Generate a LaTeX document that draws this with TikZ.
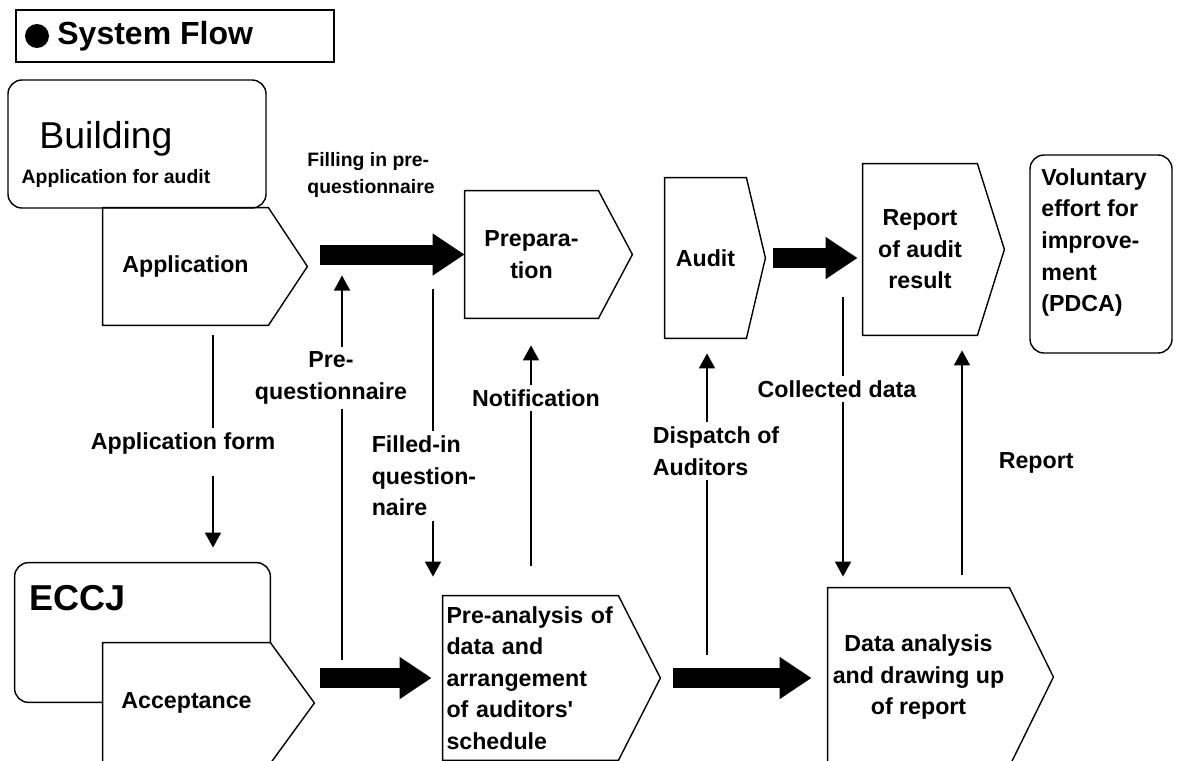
\documentclass[tikz,border=0pt]{standalone}
\usepackage{fontspec}
\setmainfont{Liberation Sans}
\usetikzlibrary{arrows.meta,positioning,calc}

\tikzset{
  lbl/.style={font=\bfseries\fontsize{11.6}{15.8}\selectfont, inner sep=2pt, align=center},
  small/.style={font=\bfseries\fontsize{9.7}{13.5}\selectfont, inner sep=1pt},
  tag/.style={rectangle, inner sep=0pt, align=center,
    font=\bfseries\fontsize{11.6}{15.8}\selectfont,
    append after command={\pgfextra{
      \draw[line width=0.7pt] (\tikzlastnode.north west) -- (\tikzlastnode.north east)
        -- ([xshift=#1]\tikzlastnode.east) -- (\tikzlastnode.south east)
        -- (\tikzlastnode.south west) -- cycle;}}},
  box/.style={draw, rounded corners=7pt, line width=0.7pt, inner sep=0pt},
  wire/.style={line width=0.8pt},
  tip/.style={-{Triangle[length=7.5pt,width=8pt]}},
  fat/.style={line width=10pt, -{Triangle[length=16pt,width=20pt]}}
}

\begin{document}
\begin{tikzpicture}[x=0.5pt,y=-0.5pt]
    \useasboundingbox (0,0) rectangle (1186,760);

    % Title
    \node (title) [draw, line width=0.7pt, minimum width=159pt, minimum height=26pt] at (175,36) {};
    \fill (37,36) circle (6pt);
    \node (titletext) [anchor=west, inner sep=0pt, font=\bfseries\fontsize{16}{18}\selectfont] at (57,36) {System Flow};

    % Building side
    \node (bldg) [box, minimum width=129pt, minimum height=64pt] at (137,144) {};
    \node (bldgname) [inner sep=0pt, font=\fontsize{18.7}{20}\selectfont] at (106,139) {Building};
    \node (bldgsub) [small] at (116,178) {Application for audit};
    \node (appl) [tag=19.5pt, minimum width=82.5pt, minimum height=58.5pt] at (185.5,266.5) {Application};

    % Upper steps
    \node (prep) [tag=17pt, minimum width=66.5pt, minimum height=63.5pt] at (531.5,254.5) {Prepara-\\tion};
    \node (audit) [tag=9.5pt, minimum width=40.5pt, minimum height=80pt] at (705.5,258) {Audit};
    \node (rep) [tag=13.5pt, minimum width=57pt, minimum height=85.5pt] at (920,249.5) {Report\\of audit\\result};
    \node (vol) [box, minimum width=71pt, minimum height=99pt] at (1101,254) {};
    \node (voltext) [lbl, align=left, anchor=north west] at (1037,164) {Voluntary\\effort for\\improve-\\ment\\(PDCA)};

    % ECCJ side
    \node (eccj) [inner sep=0pt, minimum width=127.5pt, minimum height=69.5pt] at (142.5,632.5) {};
    \node (eccjname) [inner sep=0pt, font=\bfseries\fontsize{18}{20}\selectfont] at (78,598) {ECCJ};
    \node (accp) [tag=22pt, minimum width=83.5pt, minimum height=60pt] at (186.5,703) {Acceptance};
    \draw[line width=0.7pt, rounded corners=7pt] (accp.west |- eccj.south) -- (eccj.south west)
        -- (eccj.north west) -- (eccj.north east) -- (eccj.east |- accp.north);

    % Lower steps
    \node (pre) [tag=21pt, minimum width=87.5pt, minimum height=82pt, text width=84pt, align=left] at (530.5,678)
        {Pre-analysis of\\data and\\arrangement\\of auditors\textquotesingle\\schedule};
    \node (data) [tag=22pt, minimum width=90.5pt, minimum height=89pt] at (918.5,677) {Data analysis\\and drawing up\\of report};

    % Main flow
    \draw[fat] ([xshift=26pt]appl.east |- prep.west) -- (prep.west);
    \draw[fat] ([xshift=13.5pt]audit.east) -- ([xshift=-2.5pt]audit.east -| rep.west);
    \draw[fat] ([xshift=25pt]accp.east |- pre.west) -- ([xshift=-5.5pt]pre.west);
    \draw[fat] ([xshift=27.5pt]pre.east) -- ([xshift=-8pt]data.west |- pre.east);
    \node (fillq) [small, align=left] at (371,175) {Filling in pre-\\questionnaire};

    % Rails
    \coordinate (x1) at (213,0);
    \coordinate (x2) at (342,0);
    \coordinate (x3) at (433,0);
    \coordinate (x4) at (531,0);
    \coordinate (x5) at (707,0);
    \coordinate (x6) at (843,0);
    \coordinate (x7) at (962,0);

    % Exchanges
    \node (lform) [lbl] at (183,443) {Application form};
    \draw[wire] ([yshift=-5pt]appl.south -| x1) -- (lform.north -| x1);
    \draw[wire,tip] ([yshift=-9pt]lform.south -| x1) -- ([yshift=7.5pt]eccj.north -| x1);

    \node (pq) [lbl] at (331,378) {Pre-\\questionnaire};
    \draw[wire] ([yshift=-8.5pt]accp.north -| x2) -- (pq.south -| x2);
    \draw[wire,tip] (pq.north -| x2) -- ([yshift=-10.5pt]prep.west -| x2);

    \node (fq) [lbl, align=left] at (424,476) {Filled-in\\question-\\naire};
    \draw[wire] ([yshift=-17pt]prep.west -| x3) -- (fq.north -| x3);
    \draw[wire,tip] (fq.south -| x3) -- ([yshift=9.5pt]pre.north -| x3);

    \node (note) [lbl] at (536,398) {Notification};
    \draw[wire] ([yshift=15pt]pre.north -| x4) -- (note.south -| x4);
    \draw[wire,tip] (note.north -| x4) -- ([yshift=-13.5pt]prep.south -| x4);

    \node (disp) [lbl, align=left] at (716,451) {Dispatch of\\Auditors};
    \draw[wire] ([yshift=11pt]data.west -| x5) -- (disp.south -| x5);
    \draw[wire,tip] (disp.north -| x5) -- ([yshift=-7.5pt]audit.south -| x5);

    \node (coll) [lbl] at (837,389) {Collected data};
    \draw[wire] ([yshift=-19.5pt]audit.east -| x6) -- (coll.north -| x6);
    \draw[wire,tip] (coll.south -| x6) -- ([yshift=5.5pt]data.north -| x6);

    \draw[wire,tip] ([yshift=6.5pt]data.north -| x7) -- node (rlab) [lbl, right=16pt] {Report} ([yshift=-7.5pt]rep.south -| x7);
\end{tikzpicture}
\end{document}
